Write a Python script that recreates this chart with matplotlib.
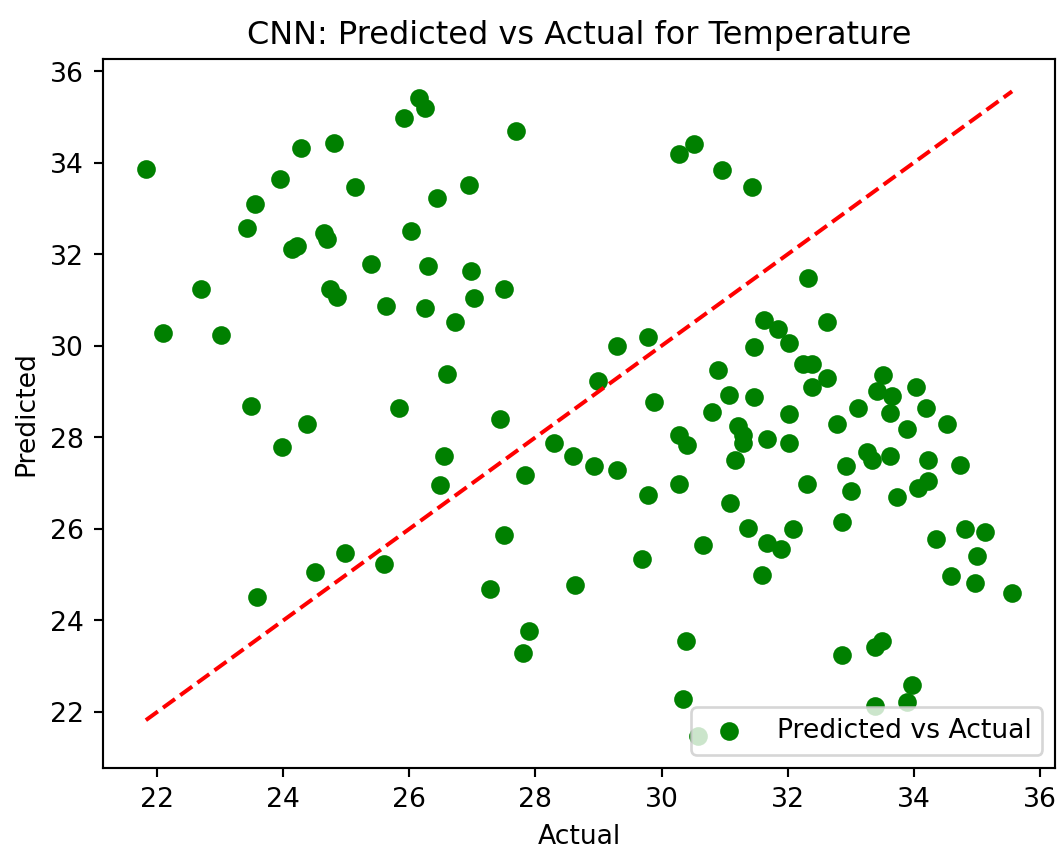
import matplotlib
matplotlib.use("Agg")
import matplotlib.pyplot as plt
import numpy as np

# actual vs predicted temperature from the CNN model
actual = np.array([
    21.82, 22.09, 22.70, 23.01, 23.43, 23.55, 23.49, 23.58, 23.95, 23.98,
    24.14, 24.21, 24.28, 24.38, 24.50, 24.65, 24.69, 24.74, 24.81, 24.85,
    24.98, 25.14, 25.39, 25.59, 25.63, 25.84, 25.91, 26.03, 26.15, 26.24,
    26.24, 26.30, 26.43, 26.48, 26.55, 26.59, 26.73, 26.95, 26.98, 27.03,
    27.28, 27.43, 27.50, 27.50, 27.69, 27.80, 27.83, 27.90, 28.29, 28.59,
    28.62, 28.93, 28.99, 29.30, 29.30, 29.69, 29.79, 29.79, 29.88, 30.27,
    30.28, 30.27, 30.34, 30.39, 30.40, 30.52, 30.58, 30.66, 30.80, 30.89,
    30.96, 31.07, 31.08, 31.21, 31.29, 31.29, 31.17, 31.37, 31.44, 31.47,
    31.47, 31.59, 31.62, 31.68, 31.68, 31.84, 31.89, 32.02, 32.02, 32.02,
    32.09, 32.24, 32.30, 32.32, 32.39, 32.39, 32.63, 32.63, 32.79, 32.87,
    32.87, 32.93, 33.00, 33.12, 33.26, 33.34, 33.38, 33.39, 33.42, 33.49,
    33.51, 33.63, 33.65, 33.63, 33.73, 33.89, 33.89, 33.98, 34.03, 34.06,
    34.19, 34.22, 34.22, 34.35, 34.52, 34.59, 34.73, 34.82, 34.97, 35.01,
    35.13, 35.56,
])
predicted = np.array([
    33.86, 30.28, 31.25, 30.23, 32.58, 33.09, 28.68, 24.52, 33.64, 27.79,
    32.11, 32.17, 34.32, 28.29, 25.06, 32.46, 32.33, 31.25, 34.44, 31.07,
    25.48, 33.48, 31.79, 25.23, 30.87, 28.64, 34.98, 32.50, 35.41, 35.19,
    30.83, 31.74, 33.22, 26.95, 27.59, 29.39, 30.52, 33.51, 31.63, 31.04,
    24.68, 28.41, 31.24, 25.86, 34.70, 23.29, 27.17, 23.76, 27.88, 27.59,
    24.77, 27.37, 29.23, 27.29, 29.99, 25.35, 30.20, 26.74, 28.78, 28.06,
    34.19, 26.99, 22.28, 23.55, 27.84, 34.40, 21.48, 25.64, 28.55, 29.47,
    33.85, 28.93, 26.57, 28.25, 28.05, 27.88, 27.50, 26.02, 33.47, 29.98,
    28.89, 24.99, 30.57, 27.96, 25.70, 30.36, 25.57, 30.06, 28.50, 27.87,
    25.99, 29.60, 26.99, 31.48, 29.60, 29.09, 30.52, 29.30, 28.30, 26.15,
    23.25, 27.37, 26.83, 28.64, 27.69, 27.50, 23.41, 22.12, 29.01, 23.54,
    29.36, 27.59, 28.90, 28.54, 26.70, 28.18, 22.21, 22.58, 29.10, 26.90,
    28.64, 27.50, 27.04, 25.78, 28.30, 24.97, 27.39, 25.99, 24.81, 25.40,
    25.94, 24.60,
])

dpi = 192
fig = plt.figure(figsize=(1057.4 / dpi, 850.4 / dpi), dpi=dpi)
ax = fig.add_axes([0.0970, 0.0965, 0.9011, 0.8335])

ax.scatter(actual, predicted, color='green', label='Predicted vs Actual')
lims = [actual.min(), actual.max()]
ax.plot(lims, lims, 'r--')

ax.set_title('CNN: Predicted vs Actual for Temperature')
ax.set_xlabel('Actual')
ax.set_ylabel('Predicted')
ax.legend(loc='lower right')

fig.savefig('out.png', dpi=dpi)
